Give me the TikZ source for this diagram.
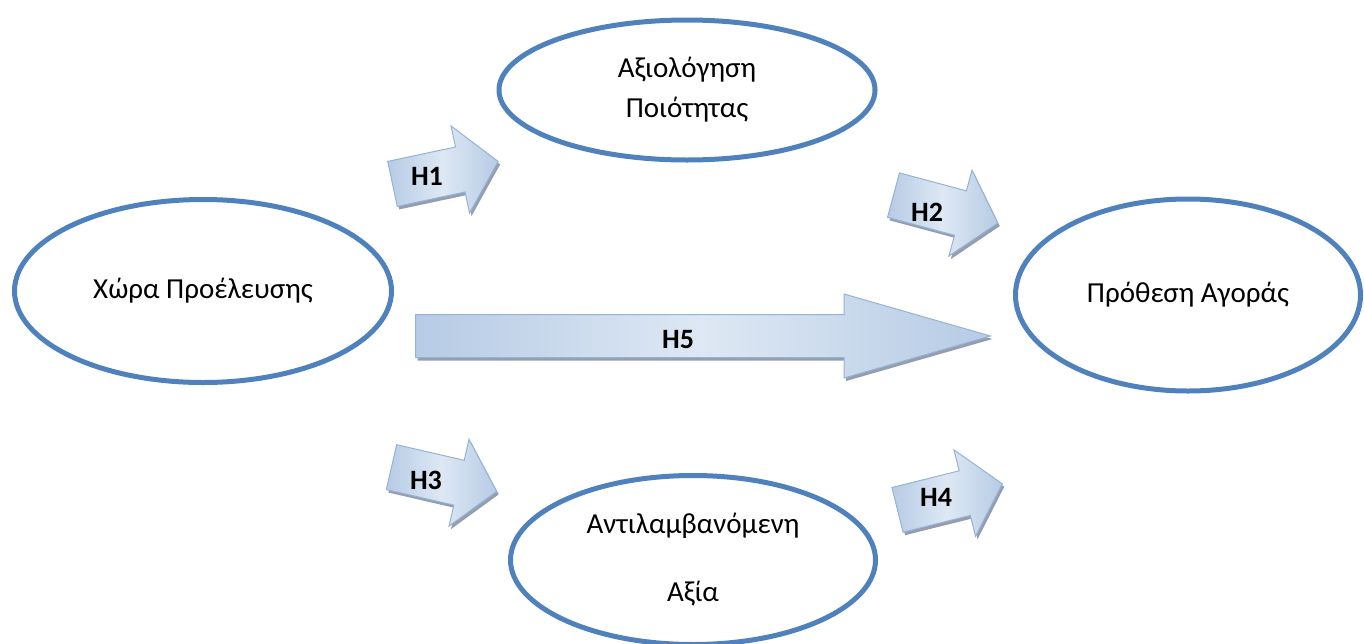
\documentclass[tikz,border=0pt]{standalone}
\usepackage{fontspec}
\setmainfont{Carlito}
\usetikzlibrary{shapes.geometric,shapes.arrows,shadows}
\definecolor{ellblue}{RGB}{79,129,189}
\definecolor{arrdark}{RGB}{182,203,229}
\definecolor{arrlight}{RGB}{222,232,244}
\definecolor{arrline}{RGB}{149,179,215}
\definecolor{arrshadow}{RGB}{148,158,174}

\begin{document}
\begin{tikzpicture}[x=1pt, y=-1pt,
    factor/.style={ellipse, draw=ellblue, line width=5pt, inner sep=0pt,
        align=center, font=\fontsize{29}{40}\selectfont},
    hyp/.style={single arrow, draw=arrline, line width=1pt,
        left color=arrdark, right color=arrdark, middle color=arrlight,
        drop shadow={shadow xshift=2pt, shadow yshift=-3pt,
            fill=arrshadow, opacity=1},
        inner xsep=0pt, inner ysep=22.5pt, minimum width=0pt,
        single arrow head extend=21.5pt, single arrow tip angle=98,
        minimum height=108pt, anchor=tail},
    hyplabel/.style={inner sep=0pt, font=\fontsize{28}{30}\selectfont\bfseries}]

\useasboundingbox (0,0) rectangle (1364,643);

% Factors
\node[factor, minimum width=377pt, minimum height=183pt] (origin) at (203,291)
    {Χώρα Προέλευσης};
\node[factor, minimum width=376pt, minimum height=140pt] (quality) at (687,90)
    {Αξιολόγηση\\Ποιότητας};
\node[factor, minimum width=345pt, minimum height=192pt] (intent) at (1188,295)
    {Πρόθεση Αγοράς};
\node[factor, minimum width=365pt, minimum height=169pt] (value) at (693,560)
    {Αντιλαμβανόμενη\\[28pt]Αξία};

% Hypotheses
\node[hyp, rotate=12] (h1) at (392,184) {};
\node[hyplabel] (h1t) at (427,176) {H1};

\node[hyp, rotate=-15] (h2) at (893,195) {};
\node[hyplabel] (h2t) at (927,212) {H2};

\node[hyp, rotate=-13] (h3) at (391,467) {};
\node[hyplabel] (h3t) at (426,480) {H3};

\node[hyp, rotate=14] (h4) at (897,510) {};
\node[hyplabel] (h4t) at (936,497) {H4};

% Direct effect
\node[hyp, inner ysep=21pt, single arrow head extend=20.5pt,
    single arrow tip angle=32, minimum height=575pt] (h5) at (415,336) {};
\node[hyplabel] (h5t) at (678,340) {H5};

\end{tikzpicture}
\end{document}
